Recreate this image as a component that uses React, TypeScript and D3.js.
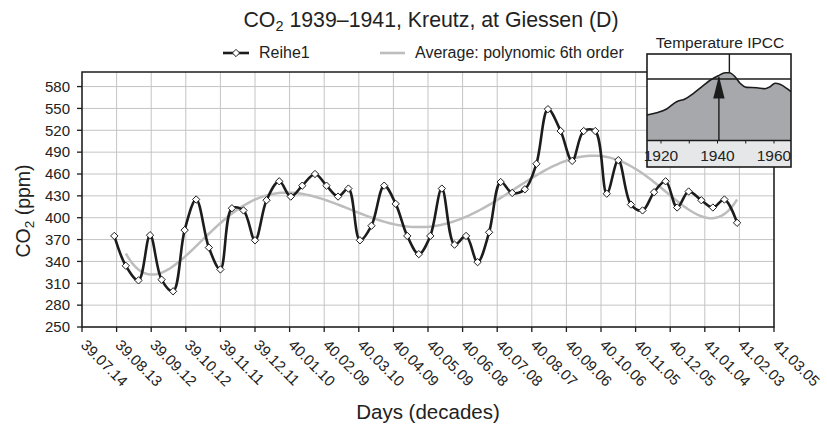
import React, { useRef, useEffect } from 'react';
import * as d3 from 'd3';

// CO2 readings per decade (10-day period), first point 1939-08-11
const co2 = [
  375, 334, 314, 376, 315, 299, 383, 425, 359, 329,
  413, 410, 369, 424, 450, 429, 444, 460, 444, 429,
  440, 369, 389, 444, 419, 375, 350, 375, 440, 363,
  375, 339, 380, 449, 434, 439, 474, 549, 519, 478,
  519, 519, 433, 479, 418, 410, 435, 450, 414, 436,
  424, 414, 425, 393,
];

const tickLabels = [
  '39.07.14', '39.08.13', '39.09.12', '39.10.12', '39.11.11', '39.12.11',
  '40.01.10', '40.02.09', '40.03.10', '40.04.09', '40.05.09', '40.06.08',
  '40.07.08', '40.08.07', '40.09.06', '40.10.06', '40.11.05', '40.12.05',
  '41.01.04', '41.02.03', '41.03.05',
];

const yTicks = [250, 280, 310, 340, 370, 400, 430, 460, 490, 520, 550, 580];

// inset: IPCC temperature anomaly
const tempYears = [1915, 1918.5, 1922, 1925.5, 1928.5, 1931.5, 1934.5, 1937.5, 1940.3, 1942.7, 1944.2,
  1946.2, 1948, 1950.3, 1953.9, 1956.8, 1958.6, 1960.4, 1962.1, 1964.5, 1966];
const tempValues = [-0.433, -0.406, -0.361, -0.274, -0.241, -0.173, -0.093, -0.013, 0.039, 0.075, 0.075,
  0.027, -0.052, -0.101, -0.105, -0.117, -0.093, -0.052, -0.064, -0.113, -0.153];
const insetYears = [1920, 1930, 1940, 1950, 1960];

const FONT = '"Liberation Sans", Arial, Helvetica, sans-serif';

const parseLabel = (s: string) => {
  const [yy, mm, dd] = s.split('.').map(Number);
  return new Date(Date.UTC(1900 + yy, mm - 1, dd));
};

// decades start on the 1st, 11th and 21st of each month
function decadeDates(year: number, month: number, decade: number, n: number) {
  const out: Date[] = [];
  for (let i = 0; i < n; i++) {
    out.push(new Date(Date.UTC(year, month, 1 + decade * 10)));
    decade++;
    if (decade > 2) { decade = 0; month++; }
  }
  return out;
}

// least squares polynomial, coefficients low -> high
function polyFit(xs: number[], ys: number[], deg: number) {
  const n = deg + 1;
  const A = Array.from({ length: n }, () => new Array(n + 1).fill(0));
  xs.forEach((x, k) => {
    for (let i = 0; i < n; i++) {
      for (let j = 0; j < n; j++) A[i][j] += Math.pow(x, i + j);
      A[i][n] += ys[k] * Math.pow(x, i);
    }
  });
  for (let c = 0; c < n; c++) {
    let p = c;
    for (let r = c + 1; r < n; r++) if (Math.abs(A[r][c]) > Math.abs(A[p][c])) p = r;
    [A[c], A[p]] = [A[p], A[c]];
    for (let r = 0; r < n; r++) {
      if (r === c) continue;
      const f = A[r][c] / A[c][c];
      for (let j = c; j <= n; j++) A[r][j] -= f * A[c][j];
    }
  }
  return A.map((row, i) => row[n] / row[i]);
}

function App() {
  const svgRef = useRef(null);

  useEffect(() => {
    const svg = d3.select(svgRef.current);
    svg.selectAll('*').remove();

    const L = 82, R = 774, T = 72, B = 327;
    const tickDates = tickLabels.map(parseLabel);
    const dates = decadeDates(1939, 7, 1, co2.length);
    const data = dates.map((d, i) => ({ d, v: co2[i] }));

    const x = d3.scaleUtc().domain([tickDates[0], tickDates[tickDates.length - 1]]).range([L, R]);
    const y = d3.scaleLinear().domain([250, 600]).range([B, T]);

    svg.append('rect').attr('width', 827).attr('height', 427).attr('fill', '#fff');

    // grid
    const grid = svg.append('g').attr('stroke', '#c4c4c4').attr('stroke-width', 1);
    grid.selectAll('line.v').data(tickDates).join('line')
      .attr('x1', (d) => x(d)).attr('x2', (d) => x(d)).attr('y1', T).attr('y2', B);
    grid.selectAll('line.h').data(yTicks).join('line')
      .attr('x1', L).attr('x2', R).attr('y1', (d) => y(d)).attr('y2', (d) => y(d));

    // trend: 6th order polynomial over decades 2..n
    const tr = data.slice(1);
    const t0 = +tr[0].d, t1 = +tr[tr.length - 1].d;
    const mid = (t0 + t1) / 2, half = (t1 - t0) / 2;
    const norm = (t: number) => (t - mid) / half;
    const coef = polyFit(tr.map((p) => norm(+p.d)), tr.map((p) => p.v), 6);
    const evalP = (u: number) => coef.reduce((s, c, i) => s + c * Math.pow(u, i), 0);
    const trendPts = d3.range(0, 201).map((k) => {
      const t = t0 + (t1 - t0) * k / 200;
      return [x(new Date(t)), y(evalP(norm(t)))] as [number, number];
    });
    svg.append('path').attr('d', d3.line()(trendPts))
      .attr('fill', 'none').attr('stroke', '#bdbdbd').attr('stroke-width', 2.5);

    // data line
    const line = d3.line<{ d: Date; v: number }>().x((p) => x(p.d)).y((p) => y(p.v)).curve(d3.curveCatmullRom);
    svg.append('path').attr('d', line(data)).attr('fill', 'none')
      .attr('stroke', '#1c1c1c').attr('stroke-width', 2.6).attr('stroke-linejoin', 'round');

    const diamond = d3.symbol().type(d3.symbolDiamond2).size(34);
    svg.append('g').selectAll('path').data(data).join('path')
      .attr('d', diamond).attr('transform', (p) => `translate(${x(p.d)},${y(p.v)})`)
      .attr('fill', '#fff').attr('stroke', '#1c1c1c').attr('stroke-width', 1);

    // frame
    svg.append('rect').attr('x', L).attr('y', T).attr('width', R - L).attr('height', B - T)
      .attr('fill', 'none').attr('stroke', '#1c1c1c').attr('stroke-width', 1.5);

    // axes
    const yAxis = svg.append('g').attr('font-family', FONT).attr('font-size', 15).attr('fill', '#222');
    yAxis.selectAll('line').data(yTicks).join('line')
      .attr('x1', L - 5).attr('x2', L).attr('y1', (d) => y(d)).attr('y2', (d) => y(d)).attr('stroke', '#1c1c1c').attr('stroke-width', 1.3);
    yAxis.selectAll('text').data(yTicks).join('text')
      .attr('x', L - 12).attr('y', (d) => y(d)).attr('dy', '0.35em').attr('text-anchor', 'end').text((d) => d);

    const xAxis = svg.append('g').attr('font-family', FONT).attr('font-size', 15).attr('fill', '#222');
    xAxis.selectAll('line').data(tickDates).join('line')
      .attr('x1', (d) => x(d)).attr('x2', (d) => x(d)).attr('y1', B).attr('y2', B + 5).attr('stroke', '#1c1c1c').attr('stroke-width', 1.3);
    xAxis.selectAll('text').data(tickLabels).join('text')
      .attr('transform', (d, i) => `translate(${x(tickDates[i]) - 2},${B + 19}) rotate(45)`)
      .text((d) => d);

    // titles
    const title = svg.append('text').attr('x', 431).attr('y', 27).attr('text-anchor', 'middle')
      .attr('font-family', FONT).attr('font-size', 21.3).attr('fill', '#222');
    title.append('tspan').text('CO');
    title.append('tspan').attr('font-size', 14.5).attr('dy', 4).text('2');
    title.append('tspan').attr('dy', -4).text(' 1939–1941, Kreutz, at Giessen (D)');

    svg.append('text').attr('x', 428).attr('y', 419).attr('text-anchor', 'middle')
      .attr('font-family', FONT).attr('font-size', 20.5).attr('fill', '#222').text('Days (decades)');

    const yTitle = svg.append('text').attr('transform', 'translate(30,211) rotate(-90)').attr('text-anchor', 'middle')
      .attr('font-family', FONT).attr('font-size', 19.5).attr('fill', '#222');
    yTitle.append('tspan').text('CO');
    yTitle.append('tspan').attr('font-size', 13.5).attr('dy', 4).text('2');
    yTitle.append('tspan').attr('dy', -4).text(' (ppm)');

    // legend
    const lg = svg.append('g').attr('font-family', FONT).attr('font-size', 16).attr('fill', '#222');
    lg.append('line').attr('x1', 223).attr('x2', 249).attr('y1', 53).attr('y2', 53).attr('stroke', '#1c1c1c').attr('stroke-width', 2.6);
    lg.append('path').attr('d', diamond).attr('transform', 'translate(236,53)').attr('fill', '#fff').attr('stroke', '#1c1c1c');
    lg.append('text').attr('x', 259).attr('y', 58).text('Reihe1');
    lg.append('line').attr('x1', 380).attr('x2', 405).attr('y1', 53).attr('y2', 53).attr('stroke', '#bdbdbd').attr('stroke-width', 2.6);
    lg.append('text').attr('x', 415).attr('y', 58).text('Average: polynomic 6th order');

    // inset
    const iL = 647, iR = 791, iT = 54, iB = 140.5, iBand = 167;
    const ix = d3.scaleLinear().domain([1920, 1960]).range([661, 774]);
    const iy = d3.scaleLinear().domain([-0.74, 0.3]).range([iB, iT]);
    const inset = svg.append('g');
    inset.append('rect').attr('x', iL).attr('y', iT).attr('width', iR - iL).attr('height', iB - iT).attr('fill', '#fff');
    inset.append('rect').attr('x', iL).attr('y', iB).attr('width', iR - iL).attr('height', iBand - iB).attr('fill', '#e6e7e8');
    const tp = tempYears.map((yr, i) => ({ yr, v: tempValues[i] }));
    inset.append('path')
      .attr('d', d3.area<{ yr: number; v: number }>().x((p) => ix(p.yr)).y0(iB).y1((p) => iy(p.v)).curve(d3.curveMonotoneX)(tp))
      .attr('fill', '#a7a8ab');
    inset.append('path')
      .attr('d', d3.line<{ yr: number; v: number }>().x((p) => ix(p.yr)).y((p) => iy(p.v)).curve(d3.curveMonotoneX)(tp))
      .attr('fill', 'none').attr('stroke', '#1c1c1c').attr('stroke-width', 1.6);
    inset.append('line').attr('x1', iL).attr('x2', iR).attr('y1', iy(0)).attr('y2', iy(0)).attr('stroke', '#1c1c1c').attr('stroke-width', 1.4);
    inset.append('line').attr('x1', ix(1944.2)).attr('x2', ix(1944.2)).attr('y1', iT).attr('y2', iy(0.075))
      .attr('stroke', '#1c1c1c').attr('stroke-width', 1.4);
    const ax = ix(1940.5);
    inset.append('line').attr('x1', ax).attr('x2', ax).attr('y1', iB).attr('y2', iy(0.02)).attr('stroke', '#1c1c1c').attr('stroke-width', 1.4);
    inset.append('path').attr('d', `M${ax},${iy(0.035)}L${ax - 5.7},${iy(-0.235)}L${ax + 5.7},${iy(-0.235)}Z`).attr('fill', '#1c1c1c');
    inset.append('line').attr('x1', iL).attr('x2', iR).attr('y1', iB).attr('y2', iB).attr('stroke', '#1c1c1c').attr('stroke-width', 1.4);
    inset.selectAll('line.t').data(insetYears).join('line')
      .attr('x1', (d) => ix(d)).attr('x2', (d) => ix(d)).attr('y1', iB).attr('y2', iB + 3).attr('stroke', '#1c1c1c');
    inset.selectAll('text.yr').data([1920, 1940, 1960]).join('text')
      .attr('x', (d) => ix(d)).attr('y', 160.5).attr('text-anchor', 'middle')
      .attr('font-family', FONT).attr('font-size', 15.5).attr('fill', '#222').text((d) => d);
    inset.append('rect').attr('x', iL).attr('y', iT).attr('width', iR - iL).attr('height', iBand - iT)
      .attr('fill', 'none').attr('stroke', '#1c1c1c').attr('stroke-width', 1.6);
    inset.append('text').attr('x', 720).attr('y', 48).attr('text-anchor', 'middle')
      .attr('font-family', FONT).attr('font-size', 15.5).attr('fill', '#222').text('Temperature IPCC');
  }, []);

  return (
    <svg ref={svgRef} width={827} height={427} style={{ position: 'absolute', left: 0, top: 0 }}></svg>
  );
}

export default App;
